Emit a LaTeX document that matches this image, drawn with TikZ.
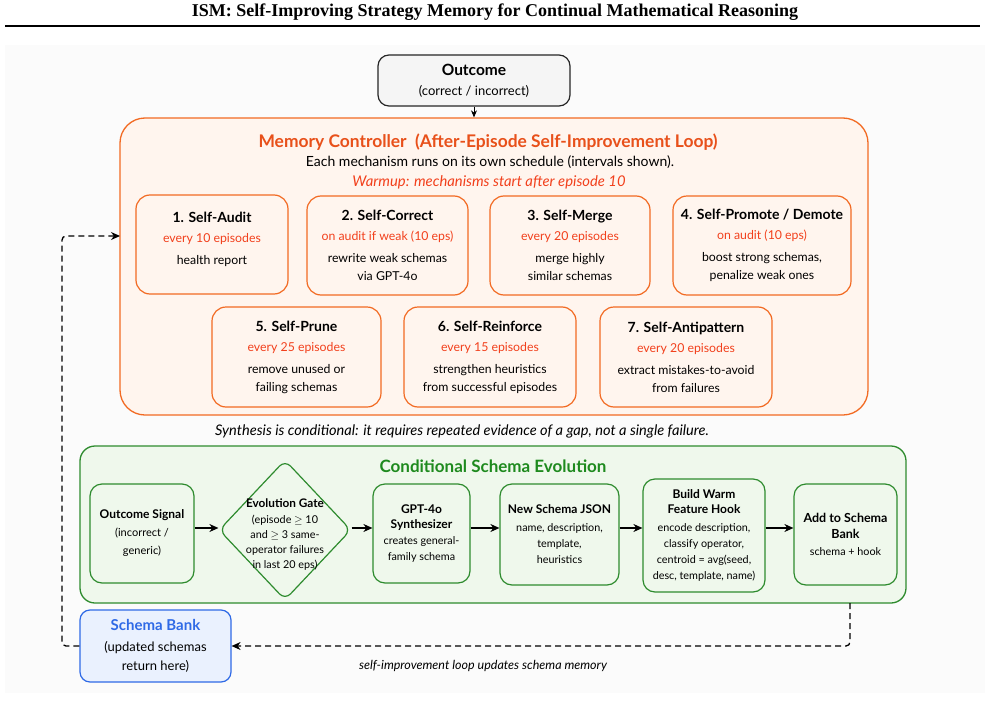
\documentclass[tikz,border=0pt]{standalone}
\usepackage{fontspec}
\setmainfont{Lato}
\newfontfamily\headfont{Liberation Serif}
\usepackage{tikz}
\usetikzlibrary{shapes,arrows,positioning,calc,arrows.meta}

\definecolor{ctrlorange}{HTML}{F26A22}
\definecolor{ctrlfill}{HTML}{FFF5EE}
\definecolor{ctrltitle}{HTML}{E8501A}
\definecolor{schedred}{HTML}{F2401C}
\definecolor{evogreen}{HTML}{2E8B2E}
\definecolor{evotitle}{HTML}{1E8A1E}
\definecolor{evofill}{HTML}{EFF8EC}
\definecolor{bankblue}{HTML}{2F6AE6}
\definecolor{bankfill}{HTML}{EAF1FE}

\tikzset{
  mech/.style={draw=ctrlorange, line width=1.2pt, fill=ctrlfill, rounded corners=14pt,
    align=center, inner sep=2pt, minimum height=99pt, font=\fontsize{12.3}{18}\selectfont},
  evo/.style={draw=evogreen, line width=1.2pt, fill=evofill, rounded corners=12pt,
    align=center, inner sep=2pt, minimum height=99pt, font=\fontsize{10.8}{16}\selectfont},
  flow/.style={-{Stealth[length=9pt,width=8pt]}, line width=1.3pt},
  loopline/.style={-{Stealth[length=9pt,width=8pt]}, line width=1.3pt,
    dash pattern=on 6pt off 4pt},
}
% per-line switches (each line of an aligned node is its own group)
\newcommand{\mechtitle}{\fontsize{14}{18}\selectfont\bfseries}
\newcommand{\mechsched}{\color{schedred}}
\newcommand{\evohead}{\fontsize{12}{16}\selectfont\bfseries}

\begin{document}
\begin{tikzpicture}[x=1pt,y=-1pt]
    \useasboundingbox (0,0) rectangle (985,709);
    % Heading
    \node[font=\headfont\bfseries\fontsize{18}{20}\selectfont] (heading) at (495,12)
        {ISM: Self-Improving Strategy Memory for Continual Mathematical Reasoning};
    \draw[line width=1.6pt] (5,26) -- (980,26);
    \fill[black!1.5] (5,45) rectangle (985,693);

    % Outcome
    \node[draw=black!85, line width=1.2pt, fill=black!4, rounded corners=11pt,
          minimum width=192pt, minimum height=51pt, align=center,
          font=\fontsize{13}{20}\selectfont] (outcome) at (474,80.5)
        {\fontsize{15.5}{20}\selectfont\bfseries Outcome\\
         (correct / incorrect)};

    % Memory controller
    \node[draw=ctrlorange, line width=1.3pt, fill=ctrlfill, rounded corners=25pt,
          minimum width=748pt, minimum height=297pt] (ctrl) at (494,266.5) {};
    \draw[-{Stealth[length=7pt,width=6pt]}, line width=0.8pt] (outcome) -- (outcome |- ctrl.north);
    \node[text=ctrltitle, font=\fontsize{17.4}{20}\selectfont\bfseries] (ctrltitle) at (488,142)
        {Memory Controller \ (After-Episode Self-Improvement Loop)};
    \node[font=\fontsize{14}{16}\selectfont] (ctrlnote) at (490,162)
        {Each mechanism runs on its own schedule (intervals shown).};
    \node[text=schedred, font=\fontsize{14.8}{16}\selectfont\itshape] (warmup) at (489,182)
        {Warmup: mechanisms start after episode 10};

    \node[mech, minimum width=152pt] (audit) at (212,244.5)
        {\mechtitle 1. Self-Audit\\[2pt] \mechsched every 10 episodes\\[4pt]
         health report\\[-6pt]};
    \node[mech, minimum width=161pt] (correct) at (387.5,245.5)
        {\mechtitle 2. Self-Correct\\[2pt] \mechsched on audit if weak (10 eps)\\[4pt]
         rewrite weak schemas\\ via GPT-4o};
    \node[mech, minimum width=160pt] (merge) at (570,245.5)
        {\mechtitle 3. Self-Merge\\[2pt] \mechsched every 20 episodes\\[4pt]
         merge highly\\ similar schemas};
    \node[mech, minimum width=178pt] (promote) at (762,245.5)
        {\mechtitle 4. Self-Promote / Demote\\[2pt] \mechsched on audit (10 eps)\\[4pt]
         boost strong schemas,\\ penalize weak ones};
    \node[mech, minimum width=169pt, minimum height=100pt] (prune) at (296.5,357)
        {\mechtitle 5. Self-Prune\\[2pt] \mechsched every 25 episodes\\[4pt]
         remove unused or\\ failing schemas};
    \node[mech, minimum width=172pt, minimum height=100pt] (reinforce) at (490,357)
        {\mechtitle 6. Self-Reinforce\\[2pt] \mechsched every 15 episodes\\[4pt]
         strengthen heuristics\\ from successful episodes};
    \node[mech, minimum width=172pt, minimum height=100pt] (antipattern) at (686,357)
        {\mechtitle 7. Self-Antipattern\\[2pt] \mechsched every 20 episodes\\[4pt]
         extract mistakes-to-avoid\\ from failures};

    \node[font=\fontsize{14.6}{16}\selectfont\itshape] (synthnote) at (462,431)
        {Synthesis is conditional: it requires repeated evidence of a gap, not a single failure.};

    % Conditional schema evolution
    \node[draw=evogreen, line width=1.3pt, fill=evofill, rounded corners=15pt,
          minimum width=826pt, minimum height=157pt] (evobox) at (493,524.5) {};
    \node[text=evotitle, font=\fontsize{17}{19}\selectfont\bfseries] (evotitle) at (493,466)
        {Conditional Schema Evolution};

    \node[evo, minimum width=104pt, font=\fontsize{11}{18}\selectfont] (signal) at (142,533.5)
        {\evohead Outcome Signal\\
         (incorrect /\\ generic)};
    \node[draw=evogreen, line width=1.2pt, fill=evofill, diamond, rounded corners=8pt,
          minimum width=132pt, minimum height=140pt, inner sep=0pt] (gate) at (285,530) {};
    \node[align=center, font=\fontsize{10.8}{15}\selectfont] (gatetext) at (285,535)
        {\fontsize{11.8}{15}\selectfont\bfseries Evolution Gate\\[1pt]
         (episode $\geq$ 10\\ and $\geq$ 3 same-\\ operator failures\\ in last 20 eps)};
    \node[evo, minimum width=97pt] (synth) at (421.5,533.5)
        {\evohead GPT-4o\\[-1pt] \evohead Synthesizer\\
         creates general-\\ family schema};
    \node[evo, minimum width=119pt, minimum height=101pt] (json) at (559.5,534.5)
        {\evohead New Schema JSON\\[2pt]
         name, description,\\ template,\\ heuristics};
    \node[evo, minimum width=122pt, minimum height=113pt] (hook) at (704,535.5)
        {\evohead Build Warm\\[-1pt] \evohead Feature Hook\\[2pt]
         encode description,\\ classify operator,\\ centroid = avg(seed,\\ desc, template, name)};
    \node[evo, minimum width=103pt, minimum height=101pt] (add) at (845.5,534.5)
        {\fontsize{12.5}{16}\selectfont\bfseries Add to Schema\\
         \fontsize{12.5}{16}\selectfont\bfseries Bank\\[1pt]
         schema + hook};

    \draw[flow] (signal.east |- 0,528) -- (gate.west |- 0,528);
    \draw[flow] (gate.east |- 0,528) -- (synth.west |- 0,528);
    \draw[flow] (synth.east |- 0,528) -- (json.west |- 0,528);
    \draw[flow] (json.east |- 0,528) -- (hook.west |- 0,528);
    \draw[flow] (hook.east |- 0,528) -- (add.west |- 0,528);

    % Schema bank and loop back
    \node[draw=bankblue, line width=1.2pt, fill=bankfill, rounded corners=10pt,
          minimum width=151pt, minimum height=72pt, align=center,
          font=\fontsize{13}{19}\selectfont] (bank) at (155.5,646)
        {\fontsize{15}{19}\selectfont\bfseries\color{bankblue} Schema Bank\\[2pt]
         (updated schemas\\ return here)};

    \coordinate (loopstart) at (850,603);
    \coordinate (loopturn) at (62,236);
    \coordinate (loopend) at (120,236);
    \draw[loopline, rounded corners=4pt] (loopstart) |- (bank.east);
    \draw[loopline, rounded corners=4pt] (bank.west) -| (loopturn) -- (loopend);
    \node[font=\fontsize{12.5}{14}\selectfont\itshape] (looplabel) at (483,666)
        {self-improvement loop updates schema memory};
\end{tikzpicture}
\end{document}
